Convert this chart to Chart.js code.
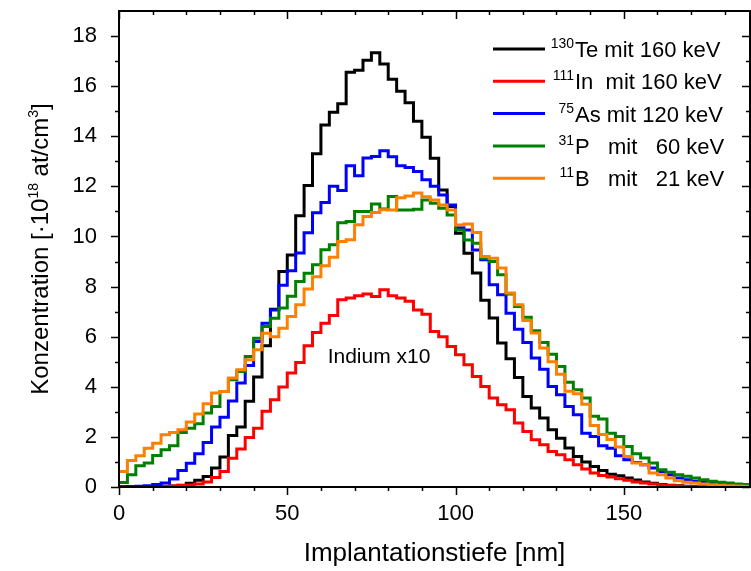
<!DOCTYPE html>
<html>
<head>
<meta charset="utf-8">
<script src="https://cdn.jsdelivr.net/npm/chart.js@4.4.0/dist/chart.umd.min.js"></script>
<style>
  html, body { margin: 0; padding: 0; background: #fff; }
</style>
</head>
<body>
<canvas id="chart" width="751" height="571"></canvas>
<script>
const FONT = 'Arial, "Liberation Sans", sans-serif';

// bin edges of the depth histogram [nm]
const depthEdges = [0, 2.5, 5, 7.5, 10, 12.5, 15, 17.5, 20, 22.5, 25, 27.5, 30, 32.5, 35, 37.5,
  40, 42.5, 45, 47.5, 50, 52.5, 55, 57.5, 60, 62.5, 65, 67.5, 70, 72.5, 75, 77.5, 80, 82.5,
  85, 87.5, 90, 92.5, 95, 97.5, 100, 102.5, 105, 107.5, 110, 112.5, 115, 117.5, 120, 122.5,
  125, 127.5, 130, 132.5, 135, 137.5, 140, 142.5, 145, 147.5, 150, 152.5, 155, 157.5, 160,
  162.5, 165, 167.5, 170, 172.5, 175, 177.5, 180, 182.5, 185, 187.5];

// concentration per bin [1e18 at/cm3]
const te130 = [0, 0, 0, 0, 0.01, 0.02, 0.04, 0.07, 0.15, 0.27,
  0.42, 0.76, 1.2, 2.06, 2.39, 3.42, 4.39, 5.64, 7.1, 8.6,
  9.26, 10.83, 12.03, 13.3, 14.45, 14.96, 15.3, 16.56, 16.63, 17.03,
  17.33, 16.88, 16.28, 15.8, 15.34, 14.6, 13.96, 13.12, 11.86, 11.2,
  10.13, 9.33, 8.54, 7.45, 6.75, 5.75, 5.12, 4.37, 3.61, 3.15,
  2.75, 2.29, 1.95, 1.56, 1.22, 1.0, 0.82, 0.66, 0.51, 0.45,
  0.36, 0.28, 0.2, 0.15, 0.1, 0.07, 0.05, 0.03, 0.02, 0.01,
  0.01, 0.01, 0, 0, 0];

// Indium shown x10
const in111 = [0, 0, 0, 0, 0.01, 0.03, 0.04, 0.06, 0.08, 0.12,
  0.2, 0.38, 0.62, 1.15, 1.52, 1.98, 2.35, 3.02, 3.48, 3.99,
  4.55, 4.97, 5.64, 6.17, 6.54, 6.85, 7.47, 7.54, 7.63, 7.7,
  7.6, 7.87, 7.63, 7.54, 7.41, 7.07, 6.9, 6.21, 6.0, 5.61,
  5.28, 4.88, 4.41, 4.01, 3.55, 3.28, 3.08, 2.55, 2.22, 1.89,
  1.69, 1.42, 1.29, 1.09, 0.89, 0.72, 0.56, 0.46, 0.4, 0.33,
  0.27, 0.2, 0.16, 0.12, 0.08, 0.06, 0.04, 0.02, 0.01, 0.01,
  0.01, 0, 0, 0, 0];

const as75 = [0.01, 0.02, 0.03, 0.05, 0.1, 0.16, 0.32, 0.66, 0.95, 1.33,
  1.78, 2.39, 2.78, 3.43, 4.15, 4.85, 5.81, 6.54, 7.07, 8.05,
  8.63, 9.34, 10.15, 10.95, 11.36, 12.0, 11.84, 12.82, 12.42, 13.13,
  13.19, 13.42, 13.18, 12.82, 12.75, 12.59, 12.26, 12.0, 11.66, 11.26,
  10.35, 10.26, 9.46, 9.07, 8.07, 7.67, 6.94, 6.3, 5.77, 5.15,
  4.7, 4.01, 3.68, 3.21, 2.88, 2.15, 2.02, 1.65, 1.55, 1.25,
  1.09, 0.98, 0.89, 0.76, 0.62, 0.49, 0.36, 0.29, 0.23, 0.19,
  0.14, 0.1, 0.07, 0.05, 0.03];

const p31 = [0.18, 0.49, 0.85, 0.96, 1.26, 1.49, 1.65, 2.18, 2.35, 2.52,
  2.95, 3.21, 3.81, 4.28, 4.61, 5.21, 5.94, 6.41, 6.74, 7.14,
  7.61, 8.2, 8.53, 8.87, 9.47, 9.67, 10.55, 10.6, 11.0, 11.0,
  11.3, 11.1, 11.6, 11.06, 11.06, 11.09, 11.46, 11.33, 11.13, 10.86,
  10.26, 9.86, 9.73, 9.13, 9.0, 8.47, 7.7, 7.2, 6.78, 6.24,
  5.77, 5.3, 4.81, 4.18, 3.88, 3.55, 2.82, 2.71, 2.15, 2.02,
  1.62, 1.33, 1.16, 0.96, 0.69, 0.59, 0.49, 0.43, 0.36, 0.29,
  0.23, 0.19, 0.16, 0.12, 0.1];

const b11 = [0.62, 1.06, 1.25, 1.55, 1.75, 2.09, 2.18, 2.29, 2.59, 2.91,
  3.32, 3.75, 3.81, 4.35, 4.68, 5.08, 5.48, 6.14, 6.0, 6.34,
  6.81, 7.27, 7.9, 8.39, 8.83, 9.17, 9.8, 9.87, 10.47, 10.8,
  10.96, 11.07, 11.06, 11.55, 11.62, 11.74, 11.59, 11.46, 11.26, 11.06,
  10.46, 10.5, 10.16, 9.2, 9.13, 8.74, 7.74, 7.27, 6.65, 6.15,
  5.55, 5.0, 4.5, 3.82, 3.72, 3.3, 2.45, 2.1, 1.9, 1.6,
  1.22, 0.96, 0.89, 0.56, 0.49, 0.36, 0.25, 0.19, 0.16, 0.12,
  0.09, 0.07, 0.05, 0.04, 0.03];

const seriesColors = ['#000000', '#ff0000', '#0000ff', '#008000', '#ff8000'];
const isotopes = ['130', '111', '75', '31', '11'];
const legendLabels = ['Te mit 160 keV', 'In  mit 160 keV', 'As mit 120 keV', 'P   mit   60 keV', 'B   mit   21 keV'];

const xTickMarks = [0, 10, 20, 30, 40, 50, 60, 70, 80, 90, 100, 110, 120, 130, 140, 150, 160, 170, 180];
const yTickMarks = [0, 1, 2, 3, 4, 5, 6, 7, 8, 9, 10, 11, 12, 13, 14, 15, 16, 17, 18];

// turn bin values into step points (left edge + closing point at the last edge)
function toSteps(values) {
    const pts = values.map((v, i) => ({ x: depthEdges[i], y: v }));
    pts.push({ x: depthEdges[values.length], y: values[values.length - 1] });
    return pts;
}

const seriesList = [te130, in111, as75, p31, b11];

// frame with outward ticks left/bottom, inward ticks top/right
const frameTicks = {
    id: 'frameTicks',
    afterDraw(chart) {
        const { ctx, chartArea: a, scales: { x, y } } = chart;
        ctx.save();
        ctx.strokeStyle = '#000';
        ctx.lineWidth = 2;
        ctx.strokeRect(a.left, a.top, a.right - a.left, a.bottom - a.top);
        ctx.lineWidth = 1.5;
        ctx.beginPath();
        xTickMarks.forEach(v => {
            const px = Math.round(x.getPixelForValue(v)) + 0.5;
            const len = v % 50 === 0 ? 8 : 4;
            ctx.moveTo(px, a.bottom);
            ctx.lineTo(px, a.bottom + len);
            ctx.moveTo(px, a.top);
            ctx.lineTo(px, a.top + len);
        });
        yTickMarks.forEach(v => {
            const py = Math.round(y.getPixelForValue(v)) + 0.5;
            const len = v % 2 === 0 ? 8 : 4;
            ctx.moveTo(a.left, py);
            ctx.lineTo(a.left - len, py);
            ctx.moveTo(a.right, py);
            ctx.lineTo(a.right - len, py);
        });
        ctx.stroke();
        ctx.restore();
    }
};

// legend, y title with superscripts, indium note
const labelsPlugin = {
    id: 'labelsPlugin',
    afterDraw(chart) {
        const { ctx, chartArea: a, scales: { x, y } } = chart;
        ctx.save();
        ctx.fillStyle = '#000';
        ctx.textBaseline = 'alphabetic';

        // legend
        isotopes.forEach((iso, i) => {
            const cy = 49 + i * 32.3;
            ctx.strokeStyle = seriesColors[i];
            ctx.lineWidth = 3;
            ctx.beginPath();
            ctx.moveTo(493, cy);
            ctx.lineTo(545, cy);
            ctx.stroke();
            ctx.font = '14px ' + FONT;
            ctx.textAlign = 'right';
            ctx.fillText(iso, 574, cy - 1);
            ctx.font = '22px ' + FONT;
            ctx.textAlign = 'left';
            ctx.fillText(legendLabels[i], 575, cy + 8);
        });

        // Indium x10 note
        ctx.font = '21px ' + FONT;
        ctx.textAlign = 'left';
        ctx.textBaseline = 'middle';
        ctx.fillText('Indium x10', x.getPixelForValue(62), y.getPixelForValue(5.2));

        // y axis title
        const parts = [
            ['Konzentration [·10', 24, 0],
            ['18', 14, -10],
            [' at/cm', 24, 0],
            ['3', 14, -10],
            [']', 24, 0]
        ];
        let total = 0;
        parts.forEach(p => { ctx.font = p[1] + 'px ' + FONT; total += ctx.measureText(p[0]).width; });
        ctx.translate(48, (a.top + a.bottom) / 2);
        ctx.rotate(-Math.PI / 2);
        ctx.textAlign = 'left';
        ctx.textBaseline = 'alphabetic';
        let cx = -total / 2;
        parts.forEach(p => {
            ctx.font = p[1] + 'px ' + FONT;
            ctx.fillText(p[0], cx, p[2]);
            cx += ctx.measureText(p[0]).width;
        });
        ctx.restore();
    }
};

const ctx = document.getElementById('chart').getContext('2d');
new Chart(ctx, {
    type: 'line',
    data: {
        datasets: seriesList.map((vals, i) => ({
            label: isotopes[i] + legendLabels[i],
            data: toSteps(vals),
            borderColor: seriesColors[i],
            backgroundColor: seriesColors[i],
            borderWidth: 3,
            stepped: 'before',
            pointRadius: 0,
            fill: false,
            order: 5 - i
        }))
    },
    options: {
        responsive: false,
        animation: false,
        layout: { padding: { top: 11, right: 1, left: 0, bottom: 0 } },
        plugins: {
            legend: { display: false },
            tooltip: { enabled: false }
        },
        scales: {
            x: {
                type: 'linear',
                min: 0,
                max: 187.5,
                grid: { display: false },
                border: { display: false },
                ticks: {
                    stepSize: 50,
                    includeBounds: false,
                    padding: 6,
                    color: '#000',
                    maxRotation: 0,
                    font: { family: FONT, size: 22 }
                },
                title: {
                    display: true,
                    text: 'Implantationstiefe [nm]',
                    color: '#000',
                    font: { family: FONT, size: 26 },
                    padding: { top: 0, bottom: 2 }
                },
                afterFit(scale) {
                    scale.height = 84;
                    scale.paddingLeft = 0;
                    scale.paddingRight = 0;
                }
            },
            y: {
                type: 'linear',
                min: 0,
                max: 19,
                grid: { display: false },
                border: { display: false },
                ticks: {
                    stepSize: 2,
                    includeBounds: false,
                    padding: 14,
                    color: '#000',
                    font: { family: FONT, size: 22 }
                },
                afterFit(scale) {
                    scale.width = 119;
                    scale.paddingTop = 0;
                    scale.paddingBottom = 0;
                }
            }
        }
    },
    plugins: [frameTicks, labelsPlugin]
});
</script>
</body>
</html>
